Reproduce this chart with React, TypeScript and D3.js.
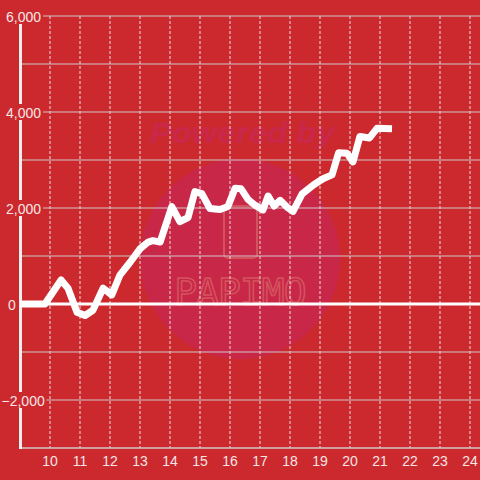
import React from "react";
import * as d3 from "d3";

const xTicks = [10, 11, 12, 13, 14, 15, 16, 17, 18, 19, 20, 21, 22, 23, 24];
const yGrid = [-2000, -1000, 0, 1000, 2000, 3000, 4000, 5000, 6000];
const yLabels = [-2000, 0, 2000, 4000, 6000];

const seriesX = [
  9.0, 9.83, 10.37, 10.6, 10.9, 11.17, 11.43, 11.77, 12.06, 12.33, 12.67, 13.0,
  13.27, 13.43, 13.67, 14.06, 14.33, 14.6, 14.83, 15.06, 15.33, 15.67, 15.93,
  16.17, 16.37, 16.6, 16.83, 17.1, 17.27, 17.47, 17.67, 17.9, 18.1, 18.4, 18.78,
  19.1, 19.4, 19.62, 19.9, 20.1, 20.33, 20.65, 20.9, 21.4,
];
const seriesY = [
  0, 0, 500, 330, -170, -240, -130, 330, 190, 600, 870, 1150, 1290, 1320, 1290,
  2030, 1715, 1800, 2340, 2300, 1990, 1970, 2030, 2410, 2400, 2180, 2060, 1960,
  2250, 2040, 2160, 2020, 1930, 2290, 2480, 2610, 2690, 3150, 3140, 2960, 3490,
  3460, 3660, 3650,
];

const W = 480;
const H = 480;
const BG = "#cc292e";

export default function App() {
  const x = d3.scaleLinear().domain([9, 24.3333]).range([20, 480]);
  const y = d3.scaleLinear().domain([-3000, 6000]).range([448, 16]);
  const pts: [number, number][] = seriesX.map((v, i) => [v, seriesY[i]]);
  const line = d3
    .line<[number, number]>()
    .x((d) => x(d[0]))
    .y((d) => y(d[1]));
  const fmt = d3.format(",");
  const charW = (s: string) =>
    s.split("").reduce((a, c) => a + (c === "," ? 3.9 : c === "-" ? 4.7 : 7.8), 0);

  return (
    <svg
      width={W}
      height={H}
      style={{ position: "absolute", left: 0, top: 0 }}
      fontFamily="'Liberation Sans', Arial, sans-serif"
    >
      <rect x={0} y={0} width={W} height={H} fill={BG} />
      {/* watermark */}
      <g>
        <circle cx={240} cy={259} r={100} fill="#c92748" />
        <text
          x={150}
          y={143}
          fontSize={29}
          fontWeight="bold"
          fontStyle="italic"
          fill="#c9284a"
          textLength={185}
          lengthAdjust="spacingAndGlyphs"
        >
          Powered by
        </text>
        <rect x={224} y={206} width={33} height={52} rx={4} fill="none" stroke="#d4545e" strokeWidth={2} />
        <text
          x={240}
          y={305}
          textAnchor="middle"
          fontSize={38}
          fontFamily="'DejaVu Sans Mono', monospace"
          fill="none"
          stroke="#d4545e"
          strokeWidth={1.5}
          letterSpacing={-1}
        >
          PAPIMO
        </text>
      </g>
      {/* vertical dashed grid */}
      {xTicks.map((t) => (
        <line
          key={"vx" + t}
          x1={x(t)}
          x2={x(t)}
          y1={y(6000)}
          y2={y(-3000)}
          stroke="#e8e0e0"
          strokeWidth={1}
          strokeDasharray="3,2"
        />
      ))}
      {/* horizontal grid */}
      {yGrid.map((t) => (
        <line
          key={"hy" + t}
          x1={x(9)}
          x2={W}
          y1={y(t)}
          y2={y(t)}
          stroke={t === 0 ? "#ffffff" : "#d2c8c8"}
          strokeWidth={t === 0 ? 3 : 1.2}
        />
      ))}
      {/* bottom axis */}
      <line x1={x(9)} x2={W} y1={y(-3000)} y2={y(-3000)} stroke="#d2c8c8" strokeWidth={1.5} />
      {/* left axis */}
      <line x1={20.5} x2={20.5} y1={y(6000)} y2={y(-3000) + 1} stroke="#f2eeee" strokeWidth={3} />
      {/* y labels */}
      {yLabels.map((t) => {
        const s = fmt(t);
        const w = charW(s);
        const x0 = t < 0 ? 1.5 : t === 0 ? 8 : 6;
        return (
          <g key={"yl" + t}>
            <rect x={x0 - 1} y={y(t) - 8} width={w + 3} height={16} fill={BG} />
            <text x={x0} y={y(t) + 5.5} fontSize={14} fill="#f6e6e6">
              {s}
            </text>
          </g>
        );
      })}
      {/* x labels */}
      {xTicks.map((t) => (
        <text key={"xl" + t} x={x(t)} y={466} textAnchor="middle" fontSize={14} fill="#f6e6e6">
          {t}
        </text>
      ))}
      {/* series */}
      <path
        d={line(pts) || ""}
        fill="none"
        stroke="#ffffff"
        strokeWidth={7}
        strokeLinejoin="round"
        strokeLinecap="butt"
      />
    </svg>
  );
}
